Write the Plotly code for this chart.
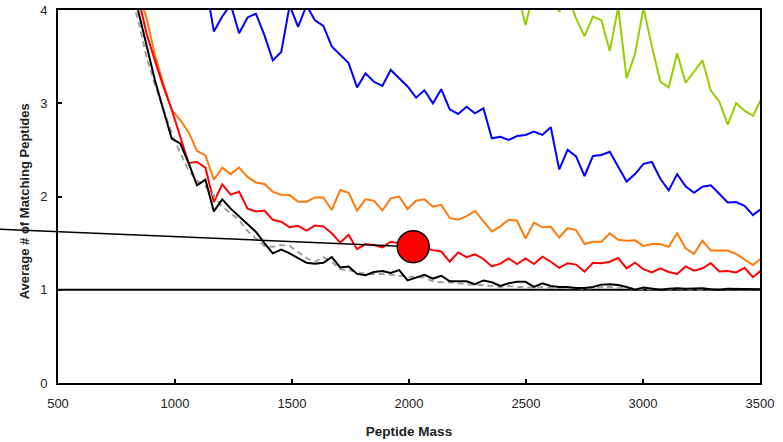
import plotly.graph_objects as go

# Peptide mass bins (Da)
mass = [770, 806, 842, 878, 914, 950, 986, 1022, 1058, 1094, 1130, 1166, 1202, 1238,
        1274, 1310, 1346, 1382, 1418, 1454, 1490, 1526, 1562, 1598, 1634, 1670, 1706,
        1742, 1778, 1814, 1850, 1886, 1922, 1958, 1994, 2030, 2066, 2102, 2138, 2174,
        2210, 2246, 2282, 2318, 2354, 2390, 2426, 2462, 2498, 2534, 2570, 2606, 2642,
        2678, 2714, 2750, 2786, 2822, 2858, 2894, 2930, 2966, 3002, 3038, 3074, 3110,
        3146, 3182, 3218, 3254, 3290, 3326, 3362, 3398, 3434, 3470, 3506]

black_vals = [5.3, 4.6, 4.0, 3.62, 3.25, 2.93, 2.62, 2.57, 2.36, 2.12, 2.18, 1.84, 1.97,
              1.87, 1.79, 1.70, 1.62, 1.50, 1.39, 1.43, 1.39, 1.34, 1.29, 1.28, 1.29, 1.35,
              1.24, 1.25, 1.17, 1.155, 1.19, 1.20, 1.18, 1.21, 1.10, 1.13, 1.16, 1.12, 1.15,
              1.09, 1.09, 1.09, 1.06, 1.10, 1.08, 1.04, 1.07, 1.085, 1.085, 1.03, 1.07, 1.04,
              1.03, 1.03, 1.02, 1.02, 1.03, 1.055, 1.06, 1.05, 1.03, 1.00, 1.025, 1.01, 1.00,
              1.01, 1.015, 1.01, 1.01, 1.015, 1.005, 1.0, 1.01, 1.01, 1.005, 1.01, 1.005]

gray_vals = [4.6, 4.2, 3.9, 3.5, 3.2, 2.93, 2.68, 2.47, 2.28, 2.17, 2.11, 2.01, 1.89, 1.82,
             1.75, 1.63, 1.55, 1.47, 1.46, 1.48, 1.47, 1.40, 1.34, 1.30, 1.35, 1.30, 1.22,
             1.21, 1.19, 1.17, 1.17, 1.17, 1.16, 1.15, 1.14, 1.14, 1.13, 1.09, 1.08, 1.08,
             1.07, 1.06, 1.05, 1.05, 1.04, 1.03, 1.04, 1.03, 1.03, 1.02, 1.03, 1.02, 1.02,
             1.015, 1.02, 1.01, 1.02, 1.03, 1.03, 1.02, 1.02, 1.01, 1.005, 1.01, 1.005,
             1.005, 1.01, 1.005, 1.005, 1.0, 1.005, 1.005, 1.0, 1.005, 1.005, 1.0, 1.005]

red_vals = [5.4, 4.7, 4.15, 3.75, 3.46, 3.18, 2.93, 2.64, 2.36, 2.37, 2.31, 1.94, 2.13,
            2.02, 2.05, 1.87, 1.84, 1.85, 1.75, 1.73, 1.67, 1.685, 1.635, 1.69, 1.68, 1.605,
            1.505, 1.59, 1.435, 1.49, 1.48, 1.455, 1.515, 1.50, 1.47, 1.46, 1.45, 1.425,
            1.41, 1.30, 1.40, 1.35, 1.38, 1.33, 1.25, 1.28, 1.335, 1.275, 1.335, 1.275,
            1.355, 1.30, 1.235, 1.285, 1.27, 1.195, 1.29, 1.285, 1.30, 1.34, 1.23, 1.29,
            1.22, 1.185, 1.23, 1.19, 1.17, 1.25, 1.205, 1.23, 1.285, 1.195, 1.20, 1.185,
            1.235, 1.135, 1.21]

orange_vals = [5.4, 4.75, 4.2, 3.92, 3.52, 3.21, 2.93, 2.82, 2.69, 2.49, 2.44, 2.18, 2.31,
               2.24, 2.31, 2.21, 2.15, 2.135, 2.05, 2.02, 2.015, 1.945, 1.945, 1.99, 1.99,
               1.855, 2.07, 2.04, 1.85, 1.97, 1.955, 1.85, 1.98, 2.00, 1.865, 1.955, 1.97,
               1.89, 1.91, 1.77, 1.75, 1.79, 1.845, 1.73, 1.625, 1.68, 1.75, 1.74, 1.55,
               1.72, 1.67, 1.675, 1.56, 1.66, 1.64, 1.49, 1.515, 1.515, 1.605, 1.535, 1.525,
               1.53, 1.47, 1.49, 1.49, 1.46, 1.605, 1.445, 1.385, 1.525, 1.42, 1.42, 1.42,
               1.385, 1.32, 1.265, 1.34]

blue_start = 1094
blue_vals = [4.5, 4.3, 3.77, 3.93, 4.06, 3.75, 3.92, 3.96, 3.73, 3.46, 3.55, 4.05, 3.82,
             4.05, 3.89, 3.83, 3.61, 3.52, 3.43, 3.17, 3.32, 3.23, 3.185, 3.357, 3.27, 3.18,
             3.06, 3.14, 3.0, 3.15, 2.935, 2.885, 2.963, 2.892, 2.946, 2.624, 2.641, 2.606,
             2.649, 2.66, 2.695, 2.66, 2.742, 2.29, 2.50, 2.43, 2.22, 2.434, 2.445, 2.48,
             2.32, 2.16, 2.24, 2.35, 2.37, 2.19, 2.065, 2.24, 2.11, 2.04, 2.105, 2.12, 2.03,
             1.935, 1.94, 1.90, 1.80, 1.87]

green_start = 2390
green_vals = [4.5, 4.3, 4.2, 3.84, 4.2, 4.4, 4.2, 3.98, 4.15, 3.91, 3.72, 3.93, 3.89, 3.56,
              4.03, 3.27, 3.53, 4.02, 3.61, 3.23, 3.17, 3.535, 3.22, 3.34, 3.46, 3.135, 3.02,
              2.77, 3.0, 2.92, 2.865, 3.05]

x_ticks = [500, 1000, 1500, 2000, 2500, 3000, 3500]
y_ticks = [0, 1, 2, 3, 4]
x_range = [500, 3500]
y_range = [0, 4]
reference_level = 1
highlight_point = [2018, 1.462]
pointer_start = [252, 1.648]
x_title = "Peptide Mass"
y_title = "Average # of Matching Peptides"

FONT = "Liberation Sans, Arial, sans-serif"
TEXT = "#222222"

fig = go.Figure()

def add_line(xs, ys, color, dash="solid", width=2):
    fig.add_trace(go.Scatter(x=xs, y=ys, mode="lines",
                             line=dict(color=color, width=width, dash=dash),
                             hoverinfo="skip", showlegend=False))

gi = mass.index(green_start)
bi = mass.index(blue_start)
add_line(mass[gi:], green_vals, "#99CC00")
add_line(mass[bi:], blue_vals, "#0000FF")
add_line(mass, orange_vals, "#FF7A0A")
add_line(mass, red_vals, "#FF0000")
add_line(mass, gray_vals, "#A0A0A0", dash="6px,4px")
add_line(mass, black_vals, "#000000")

def px(v):
    return (v - x_range[0]) / (x_range[1] - x_range[0])

def py(v):
    return (v - y_range[0]) / (y_range[1] - y_range[0])

shapes = [
    dict(type="line", xref="paper", yref="y", x0=0, x1=1,
         y0=reference_level, y1=reference_level,
         line=dict(color="black", width=2), layer="below"),
    dict(type="line", xref="paper", yref="paper",
         x0=px(pointer_start[0]), y0=py(pointer_start[1]),
         x1=px(highlight_point[0]), y1=py(highlight_point[1]),
         line=dict(color="black", width=1.5), layer="above"),
    dict(type="circle", xref="x", yref="y",
         xsizemode="pixel", ysizemode="pixel",
         xanchor=highlight_point[0], yanchor=highlight_point[1],
         x0=-16, x1=16, y0=-16, y1=16,
         fillcolor="#FF0000", line=dict(color="black", width=1.5), layer="above"),
]

annotations = [
    dict(text="<b>" + y_title + "</b>", xref="paper", yref="paper",
         x=0, y=0.487, xanchor="center", yanchor="middle", xshift=-34,
         textangle=-90, showarrow=False,
         font=dict(family=FONT, size=13, color=TEXT)),
]

fig.update_layout(
    width=783, height=442,
    margin=dict(l=58, r=23, t=10, b=59, autoexpand=False),
    paper_bgcolor="white", plot_bgcolor="white",
    showlegend=False,
    font=dict(family=FONT, size=12, color=TEXT),
    shapes=shapes,
    annotations=annotations,
    xaxis=dict(range=x_range, tickvals=x_ticks, showgrid=False, zeroline=False,
               automargin=False,
               showline=True, linecolor="black", linewidth=2, mirror=True,
               ticks="inside", ticklen=4, tickwidth=1.5, tickcolor="black",
               tickfont=dict(family=FONT, size=13, color=TEXT),
               ticklabelstandoff=7,
               title=dict(text="<b>" + x_title + "</b>", standoff=17,
                          font=dict(family=FONT, size=13.5, color=TEXT))),
    yaxis=dict(range=y_range, tickvals=y_ticks, showgrid=False, zeroline=False,
               automargin=False,
               showline=True, linecolor="black", linewidth=2, mirror=True,
               ticks="inside", ticklen=4, tickwidth=1.5, tickcolor="black",
               tickfont=dict(family=FONT, size=13, color=TEXT),
               ticklabelstandoff=6),
)

fig.write_html("out.html")
